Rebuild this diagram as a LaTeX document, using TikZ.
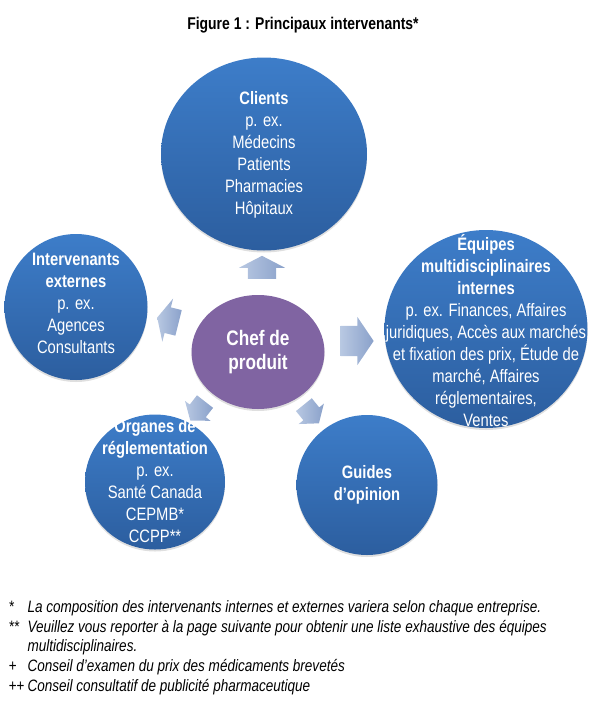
\documentclass[tikz,border=0pt]{standalone}
\usepackage{fontspec}
\setmainfont[FakeStretch=0.82]{Liberation Sans}
\usetikzlibrary{shapes.geometric, shapes.arrows, shadows}
\definecolor{bubbletop}{HTML}{3D7DC9}
\definecolor{bubblebot}{HTML}{2C5E9F}
\definecolor{chefviolet}{HTML}{8064A2}
\definecolor{arrowtail}{HTML}{B8C8E2}
\definecolor{arrowhead}{HTML}{8AA1CA}

\begin{document}
\begin{tikzpicture}[x=1pt, y=1pt,
    bubble/.style={ellipse, inner sep=0pt, top color=bubbletop, bottom color=bubblebot,
        drop shadow={shadow xshift=0pt, shadow yshift=-2pt, opacity=0.25}},
    bubbletext/.style={text=white, align=center, font=\fontsize{18}{22}\selectfont},
    blockarrow/.style={single arrow, inner xsep=0pt, draw=none, left color=arrowtail, right color=arrowhead},
    footmark/.style={anchor=base west, font=\itshape\fontsize{16.5}{20}\selectfont},
    foottext/.style={anchor=base west, font=\itshape\fontsize{16.5}{20}\selectfont}]
    % Frame
    \useasboundingbox (0,0) rectangle (591,-702);
    % Title
    \node[font=\bfseries\fontsize{17}{20}\selectfont] (title) at (303,-25) {Figure 1 : Principaux intervenants*};

    % Bubbles
    \node[bubble, minimum width=206, minimum height=193] (clients) at (264,-154) {};
    \node[bubble, minimum width=143, minimum height=146] (externes) at (76,-307) {};
    \node[bubble, minimum width=203, minimum height=198] (equipes) at (486,-329) {};
    \node[bubble, minimum width=140, minimum height=135] (organes) at (155,-482) {};
    \node[bubble, minimum width=141, minimum height=140] (guides) at (367,-485) {};
    \node[ellipse, inner sep=0pt, minimum width=133, minimum height=114, fill=chefviolet,
        drop shadow={shadow xshift=0pt, shadow yshift=-2pt, opacity=0.25}] (chef) at (258,-352) {};

    % Texts
    \node[bubbletext] (clients-txt) at ([yshift=-1]clients.center) {\textbf{Clients}\\p. ex.\\Médecins\\Patients\\Pharmacies\\Hôpitaux};
    \node[bubbletext] (externes-txt) at ([yshift=4]externes.center) {\textbf{Intervenants}\\\textbf{externes}\\p. ex.\\Agences\\Consultants};
    \node[bubbletext] (equipes-txt) at ([yshift=-2]equipes.center) {\textbf{Équipes}\\\textbf{multidisciplinaires}\\\textbf{internes}\\p. ex. Finances, Affaires\\juridiques, Accès aux marchés\\et fixation des prix, Étude de\\marché, Affaires\\réglementaires,\\Ventes};
    \node[bubbletext] (organes-txt) at ([yshift=1]organes.center) {\textbf{Organes de}\\\textbf{réglementation}\\p. ex.\\Santé Canada\\CEPMB*\\CCPP**};
    \node[bubbletext] (guides-txt) at (guides.center) {\textbf{Guides}\\\textbf{d’opinion}};
    \node[text=white, align=center, font=\bfseries\fontsize{21}{24}\selectfont] (chef-txt) at (chef.center) {Chef de\\produit};

    % Arrows
    \node[blockarrow, rotate=90, inner ysep=14, minimum height=23, single arrow head extend=9, single arrow tip angle=125] (to-clients) at (262,-271) {};
    \node[blockarrow, rotate=0, inner ysep=15, minimum height=33, single arrow head extend=9, single arrow tip angle=112] (to-equipes) at (352,-341) {};
    \node[blockarrow, rotate=166, inner ysep=13, minimum height=22, single arrow head extend=9, single arrow tip angle=128] (to-externes) at (171,-321) {};
    \node[blockarrow, rotate=232, inner ysep=10, minimum height=24, single arrow head extend=6, single arrow tip angle=106] (to-organes) at (200,-408) {};
    \node[blockarrow, rotate=309, inner ysep=10, minimum height=24, single arrow head extend=6, single arrow tip angle=106] (to-guides) at (309,-411) {};

    % Footnotes
    \node[footmark] (m1) at (5,-612) {*};
    \node[foottext] (f1) at (24,-612) {La composition des intervenants internes et externes variera selon chaque entreprise.};
    \node[footmark] (m2) at (5,-632) {**};
    \node[foottext] (f2) at (24,-632) {Veuillez vous reporter à la page suivante pour obtenir une liste exhaustive des équipes};
    \node[foottext] (f2b) at (24,-651) {multidisciplinaires.};
    \node[footmark] (m3) at (5,-671) {+};
    \node[foottext] (f3) at (24,-671) {Conseil d’examen du prix des médicaments brevetés};
    \node[footmark] (m4) at (5,-691) {++};
    \node[foottext] (f4) at (24,-691) {Conseil consultatif de publicité pharmaceutique};
\end{tikzpicture}
\end{document}
